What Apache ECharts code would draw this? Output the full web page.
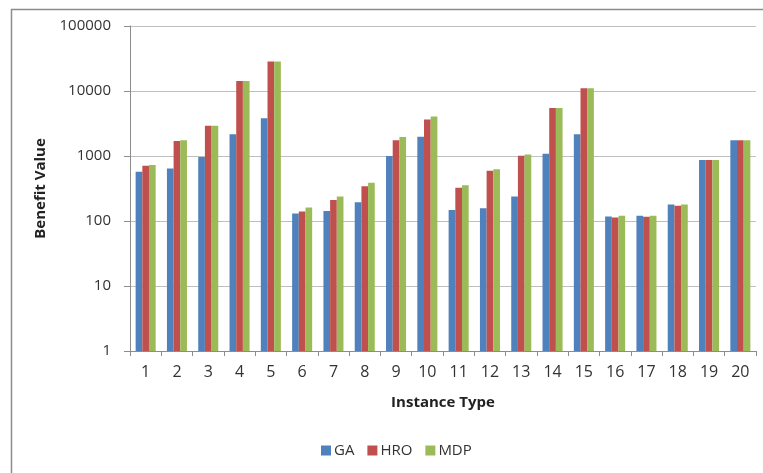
<!DOCTYPE html>
<html>
<head>
<meta charset="utf-8">
<script src="https://cdn.jsdelivr.net/npm/echarts@6/dist/echarts.min.js"></script>
<style>
  html, body { margin: 0; padding: 0; background: #ffffff; }
  #chart { width: 763px; height: 473px; }
</style>
</head>
<body>
<div id="chart"></div>
<script>
// Instance types on the category axis
const instanceTypes = ['1','2','3','4','5','6','7','8','9','10','11','12','13','14','15','16','17','18','19','20'];

// Benefit value per instance type for each method
const gaValues  = [573, 644, 962, 2155, 3800, 130, 143, 194, 1000, 1983, 148, 157, 238, 1085, 2155, 117, 120, 179, 870, 1740];
const hroValues = [708, 1700, 2930, 14300, 28500, 140, 211, 343, 1740, 3630, 324, 593, 1010, 5480, 11040, 113, 116, 171, 870, 1740];
const mdpValues = [724, 1740, 2930, 14300, 28500, 161, 238, 387, 1960, 4040, 356, 628, 1058, 5480, 11040, 120, 120, 179, 870, 1740];

const seriesNames = ['GA', 'HRO', 'MDP'];
const seriesColors = ['#4F81BD', '#C0504D', '#9BBB59'];

const font = '"Open Sans", "Noto Sans", sans-serif';
const chart = echarts.init(document.getElementById('chart'), null, { renderer: 'canvas' });

const makeBar = (name, data, color) => ({
  name: name,
  type: 'bar',
  data: data,
  barGap: '0%',
  barCategoryGap: '36%',
  itemStyle: { color: color },
  emphasis: { disabled: true }
});

chart.setOption({
  animation: false,
  backgroundColor: '#ffffff',
  color: seriesColors,
  graphic: [{
    type: 'rect',
    left: 9, top: 7,
    shape: { width: 820, height: 520 },
    style: { fill: 'none', stroke: '#8c8c8c', lineWidth: 1.5 },
    silent: true
  }],
  grid: { left: 130, right: 7, top: 26, bottom: 122, containLabel: false },
  legend: {
    data: seriesNames,
    left: 316, top: 438,
    itemWidth: 10, itemHeight: 10, itemGap: 13,
    icon: 'rect',
    textStyle: { fontFamily: font, fontSize: 15, color: '#333333', padding: [0, 0, 0, -2] }
  },
  xAxis: {
    type: 'category',
    data: instanceTypes,
    name: 'Instance Type',
    nameLocation: 'middle',
    nameGap: 44,
    nameTextStyle: { fontFamily: font, fontSize: 15, fontWeight: 'bold', color: '#222222' },
    axisLine: { lineStyle: { color: '#8c8c8c', width: 1 } },
    axisTick: { show: true, alignWithLabel: false, length: 5, lineStyle: { color: '#8c8c8c' } },
    axisLabel: { fontFamily: font, fontSize: 16, color: '#333333', margin: 13 },
    splitLine: { show: false }
  },
  yAxis: {
    type: 'log',
    logBase: 10,
    min: 1,
    max: 100000,
    name: 'Benefit Value',
    nameLocation: 'middle',
    nameGap: 74,
    nameRotate: 90,
    nameTextStyle: { fontFamily: font, fontSize: 15, fontWeight: 'bold', color: '#222222' },
    axisLine: { show: true, lineStyle: { color: '#8c8c8c', width: 1 } },
    axisTick: { show: true, length: 6, lineStyle: { color: '#8c8c8c' } },
    axisLabel: {
      fontFamily: font, fontSize: 15, color: '#333333', margin: 19,
      formatter: (v) => String(Math.round(v))
    },
    splitLine: { show: true, lineStyle: { color: '#bfbfbf', width: 1 } },
    minorTick: { show: false }
  },
  series: [
    makeBar(seriesNames[0], gaValues, seriesColors[0]),
    makeBar(seriesNames[1], hroValues, seriesColors[1]),
    makeBar(seriesNames[2], mdpValues, seriesColors[2])
  ]
});
</script>
</body>
</html>
